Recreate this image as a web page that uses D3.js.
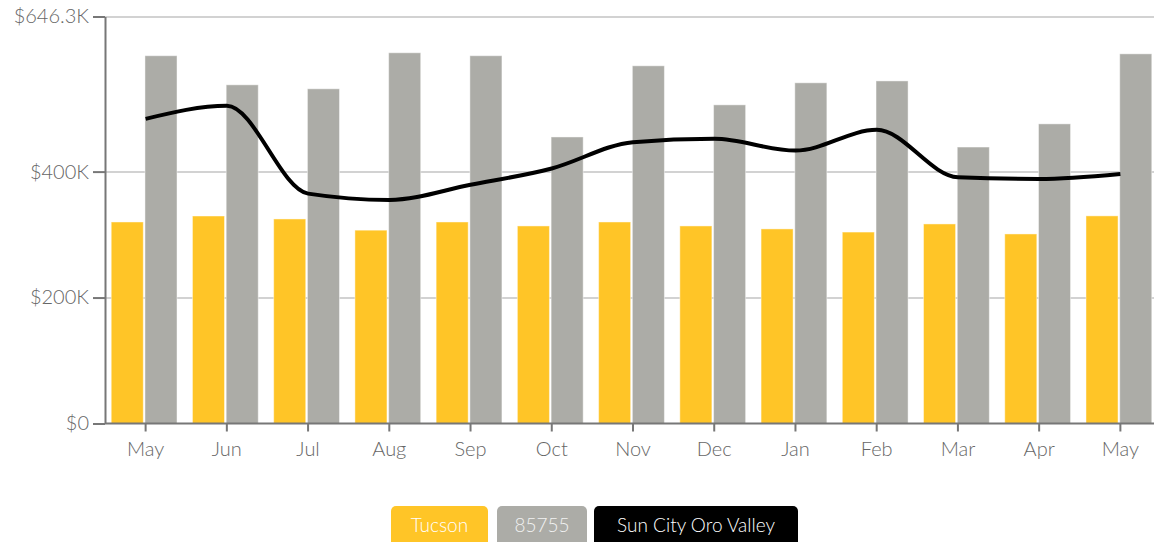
<!DOCTYPE html>
<html>
<head>
<meta charset="utf-8">
<script src="https://cdn.jsdelivr.net/npm/d3@7"></script>
<style>
  html, body { margin: 0; padding: 0; background: #fff; }
  svg { display: block; font-family: Lato, "Open Sans", sans-serif; font-weight: 300; }
</style>
</head>
<body>
<svg id="chart"></svg>
<script>
const months = ["May", "Jun", "Jul", "Aug", "Sep", "Oct", "Nov", "Dec", "Jan", "Feb", "Mar", "Apr", "May"];
const tucson = [320000, 329500, 324800, 307000, 320000, 313700, 320000, 313700, 309000, 304000, 316900, 301000, 329700];
const zip85755 = [584000, 537800, 531500, 588700, 584000, 455000, 568000, 506000, 541000, 544000, 439000, 475800, 587000];
const sunCity = [483800, 504500, 365000, 355000, 379000, 405000, 446700, 452000, 433400, 466300, 391000, 388400, 396300];
const yTicks = [0, 200000, 400000, 646300];
const seriesNames = ["Tucson", "85755", "Sun City Oro Valley"];

const W = 1154, H = 542;
const plotLeft = 105, plotTop = 16.5, plotBottom = 423.5;

const svg = d3.select("#chart").attr("width", W).attr("height", H);

const rows = months.map((m, i) => ({ key: i, month: m, tucson: tucson[i], zip: zip85755[i], sun: sunCity[i] }));

const x0 = d3.scaleBand()
    .domain(rows.map(d => d.key))
    .range([plotLeft, 1161])
    .paddingInner(0.19)
    .paddingOuter(0.095);

const x1 = d3.scaleBand()
    .domain(["tucson", "zip"])
    .range([0, x0.bandwidth()])
    .paddingInner(0.05);

const y = d3.scaleLinear().domain([0, 646300]).range([plotBottom, plotTop]);

const color = { tucson: "#ffc527", zip: "#acaca7" };

// grid
svg.append("g")
    .attr("transform", `translate(${plotLeft},0)`)
    .call(d3.axisLeft(y).tickValues(yTicks.slice(1)).tickSize(-(W - plotLeft)).tickFormat(""))
    .call(g => g.select(".domain").remove())
    .selectAll("line").attr("stroke", "#d2d2d2").attr("stroke-width", 2);

// bars
const groups = svg.append("g").selectAll("g")
    .data(rows)
    .enter().append("g")
    .attr("transform", d => `translate(${x0(d.key) - 1.5},0)`);

groups.selectAll("rect")
    .data(d => ["tucson", "zip"].map(k => ({ k, v: d[k] })))
    .enter().append("rect")
    .attr("x", d => x1(d.k))
    .attr("y", d => y(d.v))
    .attr("width", x1.bandwidth())
    .attr("height", d => y(0) - y(d.v))
    .attr("fill", d => color[d.k])
    .attr("stroke", "#fff")
    .attr("stroke-opacity", 0.45)
    .attr("stroke-width", 1);

// line
const line = d3.line()
    .x(d => x0(d.key) + x0.bandwidth() / 2)
    .y(d => y(d.sun))
    .curve(d3.curveMonotoneX);

svg.append("path")
    .datum(rows)
    .attr("fill", "none")
    .attr("stroke", "#000")
    .attr("stroke-width", 4)
    .attr("d", line);

// y axis
const fmt = v => v === 0 ? "$0" : (v % 100000 === 0 ? "$" + (v / 1000) + "K" : "$" + d3.format(".1f")(v / 1000) + "K");
svg.append("g")
    .attr("transform", `translate(${plotLeft},0)`)
    .call(d3.axisLeft(y).tickValues(yTicks).tickSize(12).tickPadding(4).tickSizeOuter(0).tickFormat(fmt))
    .call(g => g.select(".domain").attr("stroke", "#777").attr("stroke-width", 2))
    .call(g => g.selectAll("line").attr("stroke", "#777").attr("stroke-width", 2))
    .call(g => g.selectAll("text").attr("fill", "#666").style("font-size", "20px").style("font-family", "Lato, sans-serif").style("font-weight", 300));

// x axis
svg.append("g")
    .attr("transform", `translate(0,${plotBottom})`)
    .call(d3.axisBottom(x0).tickSize(8).tickPadding(10).tickSizeOuter(0).tickFormat(k => months[k]))
    .call(g => g.select(".domain").attr("d", `M${plotLeft},0H${W}`).attr("stroke", "#777").attr("stroke-width", 2))
    .call(g => g.selectAll("line").attr("stroke", "#777").attr("stroke-width", 2))
    .call(g => g.selectAll("text").attr("fill", "#666").style("font-size", "20px").style("font-family", "Lato, sans-serif").style("font-weight", 300));

// legend
const legendItems = [
    { name: seriesNames[0], x: 391, w: 97, fill: "#ffc527", text: "#fff" },
    { name: seriesNames[1], x: 497, w: 90, fill: "#acaca7", text: "#f2f2f2" },
    { name: seriesNames[2], x: 594, w: 204, fill: "#000", text: "#fff" }
];
const lg = svg.append("g").selectAll("g")
    .data(legendItems)
    .enter().append("g")
    .attr("transform", d => `translate(${d.x},506)`);

lg.append("rect")
    .attr("width", d => d.w)
    .attr("height", 40)
    .attr("rx", 5)
    .attr("fill", d => d.fill);

lg.append("text")
    .attr("x", d => d.w / 2)
    .attr("y", 19)
    .attr("dy", "0.35em")
    .attr("text-anchor", "middle")
    .attr("fill", d => d.text)
    .style("font-size", "19px")
    .style("font-weight", 300)
    .text(d => d.name);
</script>
</body>
</html>
